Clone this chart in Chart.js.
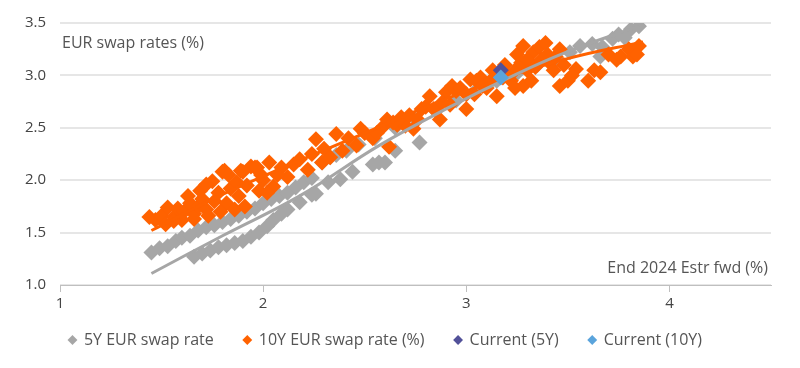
<!DOCTYPE html>
<html>
<head>
<meta charset="utf-8">
<script src="https://cdn.jsdelivr.net/npm/chart.js@4"></script>
<style>
  html, body { margin: 0; padding: 0; background: #fff; }
  #wrap { width: 800px; height: 368px; }
</style>
</head>
<body>
<div id="wrap"><canvas id="myChart" width="800" height="368"></canvas></div>
<script>
// End 2024 Estr fwd (x) vs swap rate (y)
var x5y = [1.45,1.49,1.53,1.57,1.60,1.64,1.68,1.72,1.76,1.80,1.84,1.88,1.92,1.96,2.00,2.04,2.08,2.12,2.16,2.20,2.24,2.29,2.33,2.36,2.41,2.47,
           1.66,1.70,1.74,1.78,1.82,1.86,1.90,1.94,1.98,2.02,2.05,2.09,2.12,2.18,2.24,2.26,2.32,2.38,2.44,2.54,2.57,2.60,2.65,2.77,
           2.55,2.65,2.75,2.85,2.95,3.05,3.15,3.25,3.35,3.45,3.51,3.56,3.62,3.66,3.67,3.72,3.75,3.78,3.81,3.85];
var y5y = [1.31,1.35,1.37,1.42,1.45,1.47,1.52,1.55,1.57,1.60,1.63,1.66,1.70,1.73,1.78,1.82,1.85,1.88,1.93,1.98,2.02,2.17,2.22,2.24,2.28,2.34,
           1.27,1.30,1.33,1.36,1.38,1.40,1.42,1.46,1.50,1.56,1.62,1.68,1.72,1.79,1.86,1.87,1.98,2.01,2.08,2.15,2.17,2.17,2.28,2.36,
           2.40,2.50,2.58,2.66,2.76,2.86,2.95,3.02,3.10,3.15,3.22,3.28,3.30,3.18,3.27,3.35,3.39,3.36,3.44,3.47];

var x10y = [1.44,1.47,1.50,1.53,1.56,1.58,1.61,1.64,1.66,1.68,1.70,1.72,1.75,1.76,1.78,1.81,1.82,1.84,1.86,1.88,1.90,1.92,1.94,1.96,1.98,2.00,2.03,2.05,2.09,2.12,
            2.15,2.18,2.22,2.24,2.26,2.29,2.30,2.33,2.36,2.39,2.42,2.46,2.48,2.50,2.54,2.59,2.61,2.62,2.66,2.70,2.74,2.78,2.82,2.87,2.90,2.92,2.95,3.00,3.02,3.04,
            3.07,3.10,3.13,3.15,3.19,3.22,3.25,3.28,3.28,3.30,3.33,3.36,3.39,3.41,3.44,3.46,3.46,3.50,3.54,3.60,3.63,3.66,3.70,3.74,3.76,3.80,3.82,3.84,3.85,
            2.56,2.64,2.68,2.72,2.76,2.80,2.84,2.88,2.93,2.97,3.00,3.05,3.08,3.12,3.18,3.20,3.24,3.27,3.30,3.34,3.37,3.40,3.43,3.48,3.32,3.24,3.52,
            1.52,1.60,1.63,1.69,1.72,1.73,1.79,1.80,1.83,1.87,1.89,1.91,1.97,1.99,2.02,2.07,1.56,1.66];
var y10y = [1.65,1.62,1.66,1.74,1.65,1.73,1.70,1.78,1.68,1.75,1.82,1.72,1.99,1.80,1.88,2.09,1.78,1.92,1.72,1.85,2.08,1.95,2.13,2.12,1.90,2.00,2.17,1.94,2.12,2.03,
            2.15,2.20,2.10,2.25,2.39,2.17,2.30,2.22,2.44,2.28,2.40,2.33,2.49,2.45,2.40,2.51,2.58,2.32,2.53,2.52,2.49,2.68,2.80,2.58,2.84,2.72,2.85,2.68,2.96,2.82,
            2.98,2.88,3.05,2.80,3.10,2.95,3.20,3.28,2.90,3.05,3.22,3.27,3.31,3.12,3.18,3.25,2.90,2.95,3.06,2.95,3.05,3.03,3.20,3.15,3.18,3.25,3.18,3.20,3.28,
            2.45,2.55,2.60,2.62,2.58,2.70,2.68,2.74,2.90,2.88,2.82,2.95,2.90,2.95,2.98,3.00,3.05,3.12,3.15,3.08,3.15,3.20,3.05,3.10,2.95,2.88,3.00,
            1.58,1.62,1.85,1.90,1.96,1.66,1.70,2.08,2.05,1.98,2.09,1.75,2.12,2.05,1.88,2.05,1.61,1.63];

// puntos actuales
var xCurrent = [3.17];
var yCurrent5y = [3.05];
var yCurrent10y = [2.98];

// líneas de tendencia
var xTrend5y = [1.45,1.80,2.18,2.57,2.92,3.20,3.49,3.85];
var yTrend5y = [1.11,1.47,1.85,2.33,2.70,2.97,3.22,3.47];
var xTrend10y = [1.45,1.84,2.50,3.00,3.48,3.87];
var yTrend10y = [1.52,1.90,2.45,2.85,3.15,3.32];

function pts(xs, ys) {
  return xs.map(function (x, i) { return {x: x, y: ys[i]}; });
}

var grey = '#A6A6A6';
var orange = '#FF6200';
var darkBlue = '#525199';
var lightBlue = '#5AA4DC';
var FONT = '"Open Sans", Lato, sans-serif';
var LEGEND_PAD = 30;

var textPlugin = {
  id: 'axisTitles',
  afterDraw: function (chart) {
    var c = chart.ctx, a = chart.chartArea;
    c.save();
    c.font = '16px ' + FONT;
    c.fillStyle = '#555';
    c.textBaseline = 'alphabetic';
    c.textAlign = 'left';
    c.fillText('EUR swap rates (%)', a.left + 2, 48);
    c.textAlign = 'right';
    c.fillText('End 2024 Estr fwd (%)', a.right - 3, 273);
    c.restore();
  }
};

// la leyenda ocupa menos alto en el layout y se coloca a mano
var legendPlugin = {
  id: 'legendPos',
  afterInit: function (chart) {
    var lg = chart.legend;
    var fit = lg.fit;
    lg.fit = function () {
      fit.call(this);
      this.height = 52;
    };
  },
  afterLayout: function (chart) {
    var lg = chart.legend;
    var h = lg.bottom - lg.top;
    lg.top = 342 - LEGEND_PAD - 10;
    lg.bottom = lg.top + h;
  }
};

var ctx = document.getElementById('myChart').getContext('2d');
var chart = new Chart(ctx, {
  type: 'scatter',
  data: {
    datasets: [{
      label: '5Y EUR swap rate',
      data: pts(x5y, y5y),
      backgroundColor: grey,
      borderColor: grey,
      pointStyle: 'rectRot',
      pointRadius: 8,
      borderWidth: 0,
      order: 4
    }, {
      label: '10Y EUR swap rate (%)',
      data: pts(x10y, y10y),
      backgroundColor: orange,
      borderColor: orange,
      pointStyle: 'rectRot',
      pointRadius: 8,
      borderWidth: 0,
      order: 3
    }, {
      label: 'Current (5Y)',
      data: pts(xCurrent, yCurrent5y),
      backgroundColor: darkBlue,
      borderColor: darkBlue,
      pointStyle: 'rectRot',
      pointRadius: 8,
      borderWidth: 0,
      order: 1
    }, {
      label: 'Current (10Y)',
      data: pts(xCurrent, yCurrent10y),
      backgroundColor: lightBlue,
      borderColor: lightBlue,
      pointStyle: 'rectRot',
      pointRadius: 8,
      borderWidth: 0,
      order: 0
    }, {
      label: 'trend5y',
      data: pts(xTrend5y, yTrend5y),
      showLine: true,
      borderColor: grey,
      borderWidth: 3,
      pointRadius: 0,
      tension: 0.4,
      order: 2
    }, {
      label: 'trend10y',
      data: pts(xTrend10y, yTrend10y),
      showLine: true,
      borderColor: orange,
      borderWidth: 3,
      pointRadius: 0,
      tension: 0.4,
      order: 2
    }]
  },
  options: {
    responsive: false,
    animation: false,
    layout: { padding: { left: 0, right: 29, top: 14, bottom: 0 } },
    plugins: {
      tooltip: { enabled: false },
      legend: {
        position: 'bottom',
        labels: {
          usePointStyle: true,
          pointStyle: 'rectRot',
          boxWidth: 7,
          boxHeight: 7,
          padding: LEGEND_PAD,
          color: '#555',
          font: { family: FONT, size: 16 },
          filter: function (item) { return item.text.indexOf('trend') !== 0; },
          sort: function (a, b) { return a.datasetIndex - b.datasetIndex; }
        }
      }
    },
    scales: {
      x: {
        type: 'linear',
        min: 1,
        max: 4.5,
        afterBuildTicks: function (s) {
          s.ticks = s.ticks.filter(function (t) { return Number.isInteger(t.value); });
        },
        ticks: { stepSize: 1, color: '#444', padding: 3, font: { family: FONT, size: 15 } },
        grid: { drawOnChartArea: false, drawTicks: true, tickLength: 7, color: '#BFBFBF' },
        border: { color: '#BFBFBF', width: 1 }
      },
      y: {
        min: 1,
        max: 3.5,
        afterFit: function (s) { s.width = 60; },
        ticks: {
          stepSize: 0.5,
          color: '#444',
          padding: 14,
          font: { family: FONT, size: 15 },
          callback: function (v) { return v.toFixed(1); }
        },
        grid: { color: '#E6E6E6', lineWidth: 2, drawTicks: false },
        border: { display: false }
      }
    }
  },
  plugins: [textPlugin, legendPlugin]
});
</script>
</body>
</html>
